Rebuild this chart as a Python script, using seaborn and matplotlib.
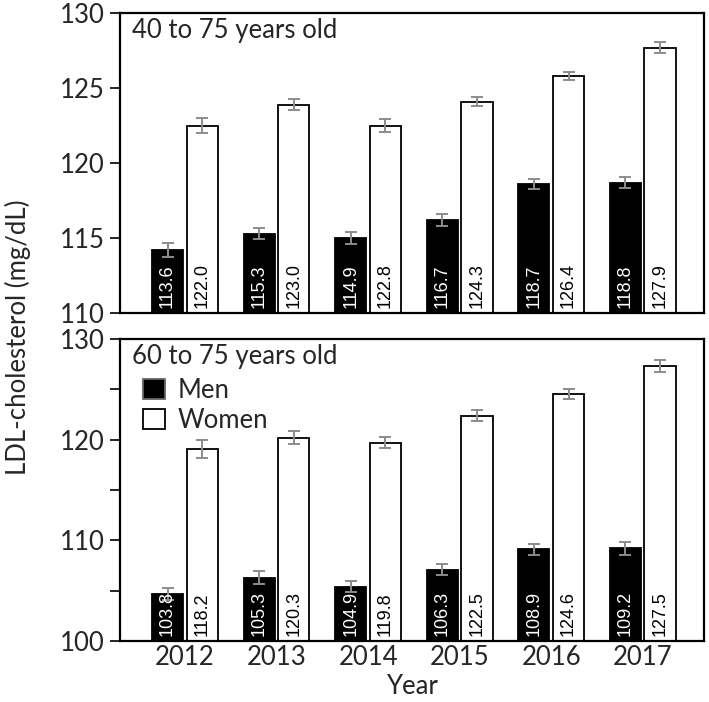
import matplotlib
matplotlib.use("Agg")
import matplotlib.pyplot as plt
import seaborn as sns
import pandas as pd
import numpy as np

years = ['2012', '2013', '2014', '2015', '2016', '2017']

# 40 to 75 years old
men_40 = [114.2, 115.3, 115.0, 116.2, 118.6, 118.7]
women_40 = [122.5, 123.9, 122.5, 124.1, 125.8, 127.7]
men_40_err = [0.47, 0.35, 0.37, 0.39, 0.34, 0.39]
women_40_err = [0.48, 0.38, 0.42, 0.29, 0.29, 0.39]
men_40_lbl = ['113.6', '115.3', '114.9', '116.7', '118.7', '118.8']
women_40_lbl = ['122.0', '123.0', '122.8', '124.3', '126.4', '127.9']

# 60 to 75 years old
men_60 = [104.7, 106.3, 105.4, 107.1, 109.1, 109.2]
women_60 = [119.1, 120.2, 119.7, 122.4, 124.5, 127.3]
men_60_err = [0.58, 0.65, 0.56, 0.58, 0.51, 0.66]
women_60_err = [0.90, 0.65, 0.57, 0.53, 0.50, 0.62]
men_60_lbl = ['103.8', '105.3', '104.9', '106.3', '108.9', '109.2']
women_60_lbl = ['118.2', '120.3', '119.8', '122.5', '124.6', '127.5']

sexes = ['Men', 'Women']

sns.set_style("white")
plt.rcParams['font.family'] = ['Lato', 'DejaVu Sans']

W, H = 709, 702
FS = 18.5
fig = plt.figure(figsize=(W / 100, H / 100), dpi=100)
ax_top = fig.add_axes([120 / W, 1 - 313 / H, 584 / W, 300 / H])
ax_bot = fig.add_axes([120 / W, 1 - 641 / H, 584 / W, 302 / H])

palette = {'Men': 'black', 'Women': 'white'}


def panel(ax, men, women, men_err, women_err, men_lbl, women_lbl, ylim, yticks,
          ylabels, title, legend):
    df = pd.DataFrame({
        'Year': years * 2,
        'Sex': ['Men'] * len(years) + ['Women'] * len(years),
        'Value': list(men) + list(women),
    })
    sns.barplot(data=df, x='Year', y='Value', hue='Sex', hue_order=sexes,
                palette=palette, edgecolor='black', linewidth=1.3,
                width=0.76, gap=0.105, errorbar=None, legend=legend, ax=ax)
    ax.set_ylim(*ylim)
    ax.set_xlim(-0.71, 5.67)
    errs = [men_err, women_err]
    lbls = [men_lbl, women_lbl]
    tcol = ['white', 'black']
    for k, cont in enumerate(ax.containers[:2]):
        xs = [p.get_x() + p.get_width() / 2 for p in cont.patches]
        hs = [p.get_height() for p in cont.patches]
        ax.errorbar(xs, hs, yerr=errs[k], fmt='none', ecolor='#8c8c8c',
                    elinewidth=1.4, capsize=4.3, capthick=1.4, zorder=5)
        for x, lab in zip(xs, lbls[k]):
            ax.annotate(lab, xy=(x, ylim[0]), xytext=(0, 5),
                        textcoords='offset pixels', rotation=90,
                        ha='center', va='bottom', color=tcol[k],
                        fontsize=13, family='Liberation Sans', zorder=6)
    ax.set_yticks(yticks)
    ax.set_yticklabels(ylabels, fontsize=FS)
    ax.tick_params(axis='y', direction='out', length=7, width=1.2,
                   color='black', left=True, pad=4)
    ax.tick_params(axis='x', length=0, labelsize=FS, pad=3)
    for s in ax.spines.values():
        s.set_visible(True)
        s.set_color('black')
        s.set_linewidth(1.6)
    ax.set_xlabel('')
    ax.set_ylabel('')
    ax.text(0.02, 0.985, title, transform=ax.transAxes, ha='left', va='top',
            fontsize=FS)


panel(ax_top, men_40, women_40, men_40_err, women_40_err, men_40_lbl,
      women_40_lbl, (110, 130), [110, 115, 120, 125, 130],
      ['110', '115', '120', '125', '130'], '40 to 75 years old', False)
ax_top.set_xticklabels([])

panel(ax_bot, men_60, women_60, men_60_err, women_60_err, men_60_lbl,
      women_60_lbl, (100, 130), [100, 105, 110, 115, 120, 125, 130],
      ['100', '', '110', '', '120', '', '130'], '60 to 75 years old', True)
ax_bot.set_xlabel('Year', fontsize=FS, labelpad=3)

handles, labels = ax_bot.get_legend_handles_labels()
if ax_bot.get_legend() is not None:
    ax_bot.get_legend().remove()
leg = ax_bot.legend(handles[:2], labels[:2], loc='upper left',
                    bbox_to_anchor=(0.022, 0.905), frameon=False, fontsize=FS,
                    handlelength=0.85, handleheight=0.85, handletextpad=0.5,
                    labelspacing=0.2, borderaxespad=0.0)
for h in leg.legend_handles:
    h.set_linewidth(1.3)
leg.legend_handles[0].set_edgecolor('#666666')

fig.text(18 / W, 1 - 337 / H, 'LDL-cholesterol (mg/dL)', rotation=90,
         ha='center', va='center', fontsize=FS)

fig.savefig('out.png', dpi=100)
